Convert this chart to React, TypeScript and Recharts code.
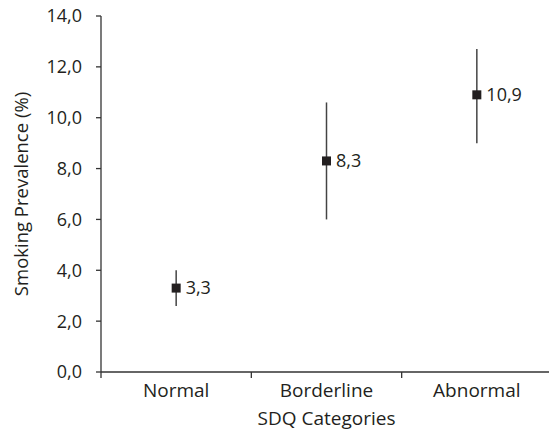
import { ScatterChart, Scatter, XAxis, YAxis, ErrorBar, LabelList } from 'recharts';

const categories = ['Normal', 'Borderline', 'Abnormal'];
const prevalence = [3.3, 8.3, 10.9];
const ciLower = [2.6, 6.0, 9.0];
const ciUpper = [4.0, 10.6, 12.7];
const yTicks = [0, 2, 4, 6, 8, 10, 12, 14];

const W = 549;
const H = 435;
const M = { top: 16, right: -3, bottom: 0, left: 0 };
const Y_AXIS_W = 101;
const X_AXIS_H = 63;
const BAND = (W - M.left - M.right - Y_AXIS_W) / categories.length;

const TEXT = '#231f20';
const FONT = '"Open Sans", Lato, sans-serif';
const FS = 18; // numbers
const FS_TXT = 19; // words

const fmt = (v: number) => v.toFixed(1).replace('.', ',');

const chartData = categories.map((name, i) => ({
  name,
  value: prevalence[i],
  err: [prevalence[i] - ciLower[i], ciUpper[i] - prevalence[i]],
}));

// category label at band centre, tick mark at the band's left boundary
function CategoryTick(props: any) {
  const { x, y, payload } = props;
  const left = x - BAND / 2;
  return (
    <g>
      <line x1={left} y1={y - 8} x2={left} y2={y - 2} stroke="#333" strokeWidth={1.3} />
      <text x={x} y={y + 17} textAnchor="middle" fill={TEXT} fontSize={FS_TXT} fontFamily={FONT}>
        {payload.value}
      </text>
    </g>
  );
}

const Square = (props: any) => {
  const { cx, cy } = props;
  return <rect x={cx - 4.5} y={cy - 4.5} width={9} height={9} fill="#231f20" />;
};

export default function App() {
  return (
    <div style={{ width: W, height: H, background: '#fff', overflow: 'hidden' }}>
      <style>{'body{margin:0}'}</style>
      <ScatterChart width={W} height={H} margin={M}>
        <XAxis
          dataKey="name"
          type="category"
          allowDuplicatedCategory={false}
          height={X_AXIS_H}
          axisLine={{ stroke: '#333', strokeWidth: 1.3 }}
          tickLine={false}
          tick={<CategoryTick />}
          interval={0}
          label={{ value: 'SDQ Categories', position: 'insideBottom', offset: 10, fill: TEXT, fontSize: FS_TXT, fontFamily: FONT }}
        />
        <YAxis
          type="number"
          domain={[0, 14]}
          ticks={yTicks}
          width={Y_AXIS_W}
          tickFormatter={fmt}
          tickSize={5}
          tickMargin={14}
          axisLine={{ stroke: '#333', strokeWidth: 1.3 }}
          tickLine={{ stroke: '#333', strokeWidth: 1.3 }}
          tick={{ fill: TEXT, fontSize: FS, fontFamily: FONT }}
          label={{
            value: 'Smoking Prevalence (%)',
            angle: -90,
            position: 'insideLeft',
            offset: 21,
            style: { textAnchor: 'middle' },
            fill: TEXT,
            fontSize: 18.5,
            fontFamily: FONT,
          }}
        />
        <Scatter data={chartData} dataKey="value" shape={<Square />} isAnimationActive={false}>
          <ErrorBar dataKey="err" direction="y" width={0} stroke="#444" strokeWidth={1.5} />
          <LabelList
            dataKey="value"
            position="right"
            offset={5}
            formatter={(v: any) => fmt(Number(v))}
            fill={TEXT}
            fontSize={FS}
            fontFamily={FONT}
          />
        </Scatter>
      </ScatterChart>
    </div>
  );
}
